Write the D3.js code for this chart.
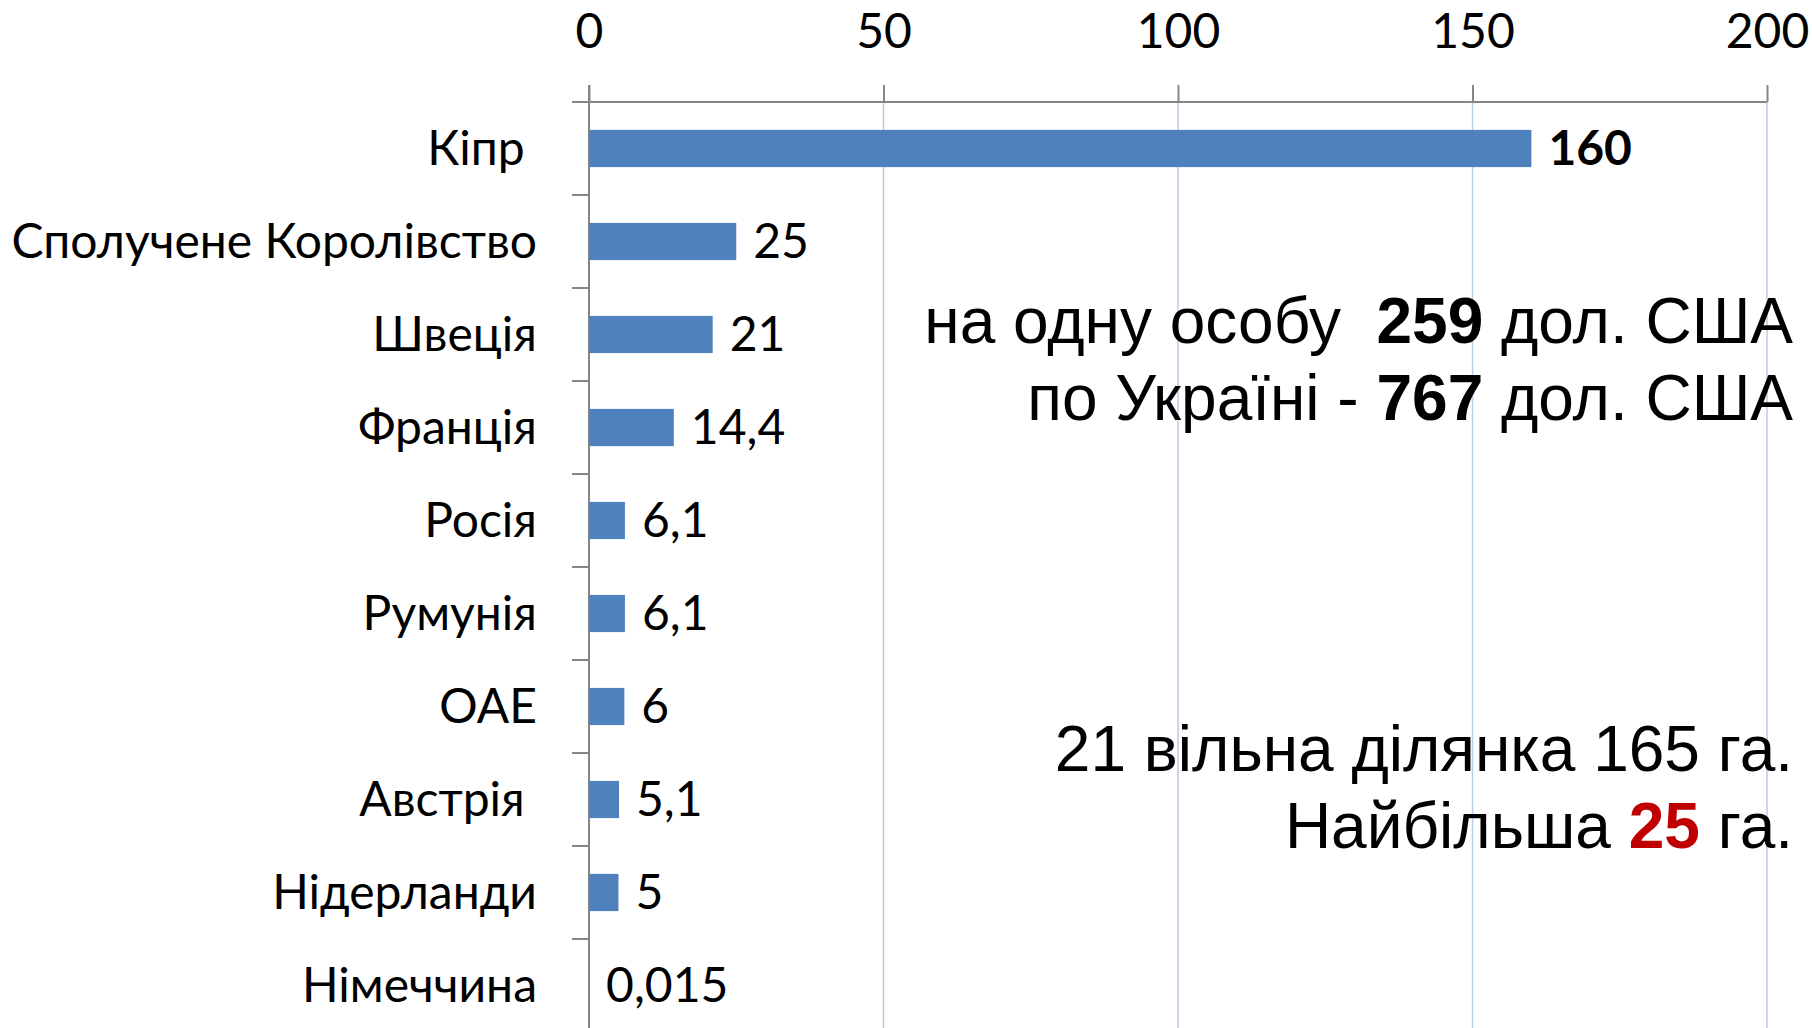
<!DOCTYPE html>
<html>
<head>
<meta charset="utf-8">
<script src="https://cdn.jsdelivr.net/npm/d3@7"></script>
<style>
  body { margin: 0; background: #fff; }
  .lab { font-family: Lato, "Noto Sans", sans-serif; font-size: 48px; fill: #000; }
  .note { font-family: "Liberation Sans", Arial, sans-serif; font-size: 64px; fill: #000; white-space: pre; }
</style>
</head>
<body>
<div id="chart"></div>
<script>
// data
const countries = ["Кіпр\u00a0", "Сполучене Королівство", "Швеція", "Франція", "Росія",
                   "Румунія", "ОАЕ", "Австрія\u00a0", "Нідерланди", "Німеччина"];
const values = [160, 25, 21, 14.4, 6.1, 6.1, 6, 5.1, 5, 0.015];
const valueLabels = ["160", "25", "21", "14,4", "6,1", "6,1", "6", "5,1", "5", "0,015"];
const xTicks = [0, 50, 100, 150, 200];

const w = 1812, h = 1028;
const mLeft = 589, mRight = 1767, mTop = 102, mBottom = 1032;

const svg = d3.select("#chart").append("svg")
  .attr("width", w).attr("height", h);

const x = d3.scaleLinear().domain([0, 200]).range([mLeft, mRight]);
const y = d3.scaleBand().domain(countries).range([mTop, mBottom]).padding(0);

// light blue gridlines
svg.append("g")
  .selectAll("line")
  .data(xTicks.slice(1))
  .enter().append("line")
  .attr("x1", d => x(d)).attr("x2", d => x(d))
  .attr("y1", mTop).attr("y2", mBottom)
  .attr("stroke", "#b9cde5").attr("stroke-width", 1.5);

// top axis
const xAxis = d3.axisTop(x).tickValues(xTicks).tickSize(17).tickPadding(37).tickFormat(d3.format("d"));
const gx = svg.append("g")
  .attr("transform", "translate(0," + mTop + ")")
  .call(xAxis);
gx.select(".domain").remove();
gx.selectAll(".tick line").attr("stroke", "#868686").attr("stroke-width", 2);
gx.selectAll(".tick text").attr("class", "lab").attr("dy", 0);
gx.attr("font-family", null).attr("font-size", null);

// left axis line + category boundary ticks
svg.append("line")
  .attr("x1", mLeft).attr("x2", mLeft).attr("y1", mTop - 17).attr("y2", mBottom)
  .attr("stroke", "#868686").attr("stroke-width", 2);
svg.append("g")
  .selectAll("line")
  .data(countries)
  .enter().append("line")
  .attr("x1", mLeft - 17).attr("x2", mLeft)
  .attr("y1", d => y(d)).attr("y2", d => y(d))
  .attr("stroke", "#868686").attr("stroke-width", 2);
svg.append("line")
  .attr("x1", mLeft - 17).attr("x2", mRight).attr("y1", mTop).attr("y2", mTop)
  .attr("stroke", "#868686").attr("stroke-width", 2);

// bars
const bw = y.bandwidth();
svg.selectAll(".bar")
  .data(countries)
  .enter().append("rect")
  .attr("class", "bar")
  .attr("x", x(0))
  .attr("y", d => y(d) + bw * 0.3)
  .attr("width", (d, i) => x(values[i]) - x(0))
  .attr("height", bw * 0.4)
  .attr("fill", "#4f81bd");

// category labels
svg.selectAll(".cat")
  .data(countries)
  .enter().append("text")
  .attr("class", "lab")
  .attr("x", 537)
  .attr("y", d => y(d) + bw / 2)
  .attr("dy", "0.35em")
  .style("text-anchor", "end")
  .style("white-space", "pre")
  .text(d => d);

// value labels
svg.selectAll(".val")
  .data(countries)
  .enter().append("text")
  .attr("class", "lab")
  .attr("x", (d, i) => x(values[i]) + 17)
  .attr("y", d => y(d) + bw / 2)
  .attr("dy", "0.35em")
  .style("font-weight", (d, i) => i === 0 ? "bold" : "normal")
  .text((d, i) => valueLabels[i]);

// notes
const n1 = svg.append("text").attr("class", "note").attr("x", 1793).attr("y", 343).style("text-anchor", "end");
n1.append("tspan").text("на одну особу  ");
n1.append("tspan").style("font-weight", "bold").text("259");
n1.append("tspan").text(" дол. США");

const n2 = svg.append("text").attr("class", "note").attr("x", 1793).attr("y", 420).style("text-anchor", "end");
n2.append("tspan").text("по Україні - ");
n2.append("tspan").style("font-weight", "bold").text("767");
n2.append("tspan").text(" дол. США");

svg.append("text").attr("class", "note").attr("x", 1793).attr("y", 771).style("text-anchor", "end")
  .text("21 вільна ділянка 165 га.");

const n4 = svg.append("text").attr("class", "note").attr("x", 1793).attr("y", 848).style("text-anchor", "end");
n4.append("tspan").text("Найбільша ");
n4.append("tspan").style("font-weight", "bold").attr("fill", "#c00000").text("25");
n4.append("tspan").text(" га.");
</script>
</body>
</html>
